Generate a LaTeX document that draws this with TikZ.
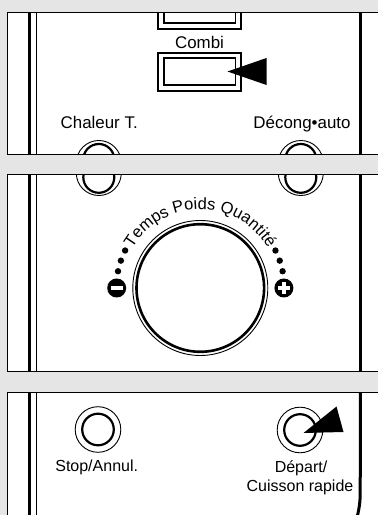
\documentclass[tikz,border=0pt]{standalone}
\usepackage{fontspec}
\setmainfont{Liberation Sans}
\usetikzlibrary{decorations.text,calc}
\definecolor{bggray}{RGB}{229,229,229}
\newcommand\arcsize{\fontsize{16.5}{18}\selectfont}
\tikzset{
  panelline/.style={draw=black,line width=1pt},
  thickrule/.style={line width=3pt},
  thinrule/.style={line width=1pt},
  ringout/.style={draw=black,line width=0.9pt},
  ringin/.style={draw=black,line width=2.2pt},
  keyframe/.style={draw=black,line width=1.8pt},
  pointer/.style={fill=black},
  lbltop/.style={font=\fontsize{16.9}{19}\selectfont,inner sep=0pt,anchor=base},
  lblbot/.style={font=\fontsize{16}{19}\selectfont,inner sep=0pt,anchor=base},
  sign/.style={circle,fill=black,minimum size=19pt,inner sep=0pt},
}
\begin{document}
\begin{tikzpicture}[x=1pt,y=1pt]
\useasboundingbox (0,0) rectangle (378,515);
\clip (0,0) rectangle (378,515);
\fill[bggray] (0,0) rectangle (378,515);

% ---------- Panel 1 ----------
\fill[white] (7.3,360.7) rectangle (400,502.7);
\begin{scope}
  \clip (7.3,360.7) rectangle (400,502.7);
  \draw[thickrule] (29.7,350) -- (29.7,510);
  \draw[thinrule] (36.5,350) -- (36.5,510);
  \draw[thickrule] (360.5,350) -- (360.5,510);
  % top key (cut)
  \draw[keyframe] (158.3,486) rectangle (240.7,520);
  \draw[keyframe] (164,491.7) rectangle (235.5,520);
  % Combi key
  \draw[keyframe] (158.3,424.3) rectangle (240.7,462.3);
  \draw[keyframe] (164,430) rectangle (235.5,456.7);
  \fill[pointer] (227.5,443.5) -- (266.5,457) -- (266.5,430) -- cycle;
  % ring tops
  \foreach \cx in {98.8,300.8}{
    \draw[ringout] (\cx,352) circle[radius=22.5];
    \draw[ringin] (\cx,355.5) circle[radius=15.5];
  }
\end{scope}
\draw[panelline] (400,360.7) -- (7.3,360.7) -- (7.3,502.7) -- (400,502.7);
\node[lbltop] (combi) at (199.5,466.7) {Combi};
\node[lbltop] (chaleur) at (99.2,386.7) {Chaleur T.};
\node[lbltop] (decong) at (302,386.7) {Décong•auto};

% ---------- Panel 2 ----------
\fill[white] (7.3,143) rectangle (400,340.7);
\begin{scope}
  \clip (7.3,143) rectangle (400,340.7);
  \draw[thickrule] (29.7,130) -- (29.7,350);
  \draw[thinrule] (36.5,130) -- (36.5,350);
  \draw[thickrule] (360.5,130) -- (360.5,350);
  \foreach \cx in {98.8,300.8}{
    \draw[ringout] (\cx,342) circle[radius=22.5];
    \draw[ringin] (\cx,337.7) circle[radius=15.5];
  }
\end{scope}
\draw[panelline] (400,143) -- (7.3,143) -- (7.3,340.7) -- (400,340.7);

\coordinate (dial) at (200.3,227);
\draw[ringout] (dial) circle[radius=67.5];
\draw[line width=2.6pt] (dial) circle[radius=63.8];
\foreach \a in {153.5,161,168.5,11.5,19,26.5}
  \fill ($(dial)+(\a:84)$) circle[radius=3.2];
\node[sign] (minus) at ($(dial)+(180:83.6)$) {};
\fill[white] ($(minus)+(-6,-1.8)$) rectangle ($(minus)+(6,1.8)$);
\node[sign] (plus) at ($(dial)+(0:83.6)$) {};
\fill[white] ($(plus)+(-6,-1.8)$) rectangle ($(plus)+(6,1.8)$);
\fill[white] ($(plus)+(-1.8,-6)$) rectangle ($(plus)+(1.8,6)$);
\path[decorate,decoration={text along path,text align=center,
  text={|\arcsize|Temps Poids Quantité}}]
  ($(dial)+(155:78.5)$) arc[start angle=155,end angle=25,radius=78.5];

% ---------- Panel 3 ----------
\fill[white] (7.3,-10) rectangle (400,122.7);
\begin{scope}
  \clip (7.3,-10) rectangle (400,122.7);
  \draw[thickrule] (29.7,-10) -- (29.7,130);
  \draw[thinrule] (36.5,-10) -- (36.5,130);
  \draw[thickrule] (360.5,130) -- (360.2,20) .. controls (360,10) and (358.5,4) .. (356.5,-5);
\end{scope}
\draw[panelline] (400,122.7) -- (7.3,122.7) -- (7.3,-10);
\draw[ringout] (98,85.5) circle[radius=22.8];
\draw[ringin] (98,85.5) circle[radius=15.8];
\draw[ringout] (300,85) circle[radius=22.8];
\draw[ringin] (300,85) circle[radius=15.8];
\fill[pointer] (303.5,82) -- (336.5,108.5) -- (343.5,83) -- cycle;
\node[lblbot] (stop) at (96.7,43) {Stop/Annul.};
\node[lblbot] (depart) at (301,42.3) {Départ/};
\node[lblbot] (cuisson) at (300,23.3) {Cuisson rapide};
\end{tikzpicture}
\end{document}
